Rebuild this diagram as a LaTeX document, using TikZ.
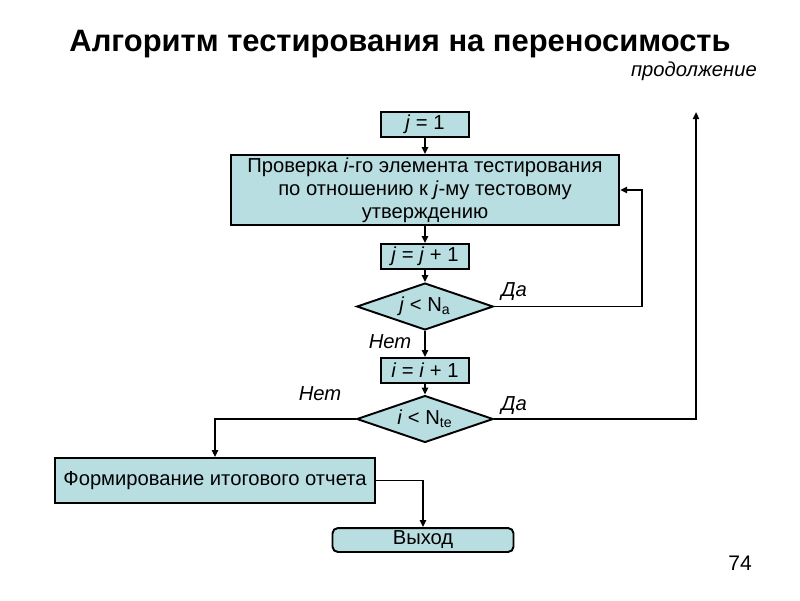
\documentclass[tikz,border=0pt]{standalone}
\usepackage{fontspec}
\setmainfont{Liberation Sans}
\usetikzlibrary{positioning,shapes.geometric,arrows.meta}
\definecolor{boxfill}{RGB}{185,222,225}

\tikzset{
  blk/.style={draw, line width=1.1pt, fill=boxfill, inner sep=0pt, font=\fontsize{11.5}{13}\selectfont, align=center},
  cond/.style={diamond, aspect=2.9, draw, line width=1.1pt, fill=boxfill, inner sep=0pt, minimum width=77.7pt, minimum height=26.7pt, font=\fontsize{11.5}{13}\selectfont},
  arr/.style={line width=1.1pt, -{Triangle[length=4pt,width=3.5pt]}},
  lbl/.style={font=\fontsize{11.5}{13}\selectfont\itshape},
}

\begin{document}
\begin{tikzpicture}[x=0.02cm, y=-0.02cm]
    \useasboundingbox (0,0) rectangle (800,600);

    %% heading
    \node (title) at (400,44) {\fontsize{17.6}{20}\selectfont\bfseries Алгоритм тестирования на переносимость};
    \node[anchor=east, lbl] (cont) at (763,71) {продолжение};

    %% blocks
    \node[blk, minimum width=49.9pt, minimum height=14.2pt] (j1) at (425,124.5) {\textit{j} = 1};
    \node[blk, minimum width=221pt, minimum height=39.7pt] (chk) at (425,190)
        {Проверка \textit{i}-го элемента тестирования\\по отношению к \textit{j}-му тестовому\\утверждению};
    \node[blk, minimum width=49.9pt, minimum height=14.2pt] (jinc) at (425,256.5) {\textit{j} = \textit{j} + 1};
    \node[cond] (dj) at (425,306.5) {\textit{j} < N\textsubscript{a}};
    \node[blk, minimum width=49.9pt, minimum height=14.2pt] (iinc) at (425,370.5) {\textit{i} = \textit{i} + 1};
    \node[cond] (di) at (425,419) {\textit{i} < N\textsubscript{te}};
    \node[blk, minimum width=182.6pt, minimum height=25.5pt] (rep) at (215,480.5) {Формирование итогового отчета};
    \node[blk, rounded corners=3pt, minimum width=103pt, minimum height=13.6pt] (exit) at (423,540) {Выход};

    %% labels
    \node[lbl] (yes1) at (514,292) {Да};
    \node[lbl] (no1) at (390,342) {Нет};
    \node[lbl] (no2) at (320,394) {Нет};
    \node[lbl] (yes2) at (514,406) {Да};
    \node (page) at (740,563) {\fontsize{12}{14}\selectfont 74};

    %% connectors
    \coordinate (rt1) at (642,306.5);
    \coordinate (rt2) at (696,419);
    \coordinate (top2) at (696,112);
    \draw[arr] (j1) -- (chk);
    \draw[arr] (chk) -- (jinc);
    \draw[arr] (jinc) -- (dj);
    \draw[arr] (dj) -- (iinc);
    \draw[arr] (iinc) -- (di);
    \draw[arr] (dj.east) -- (rt1) |- (chk.east);
    \draw[arr] (di.east) -- (rt2) -- (top2);
    \draw[arr] (di.west) -| (rep.north);
    \draw[arr] (rep.east) -| (exit.north);
\end{tikzpicture}
\end{document}
